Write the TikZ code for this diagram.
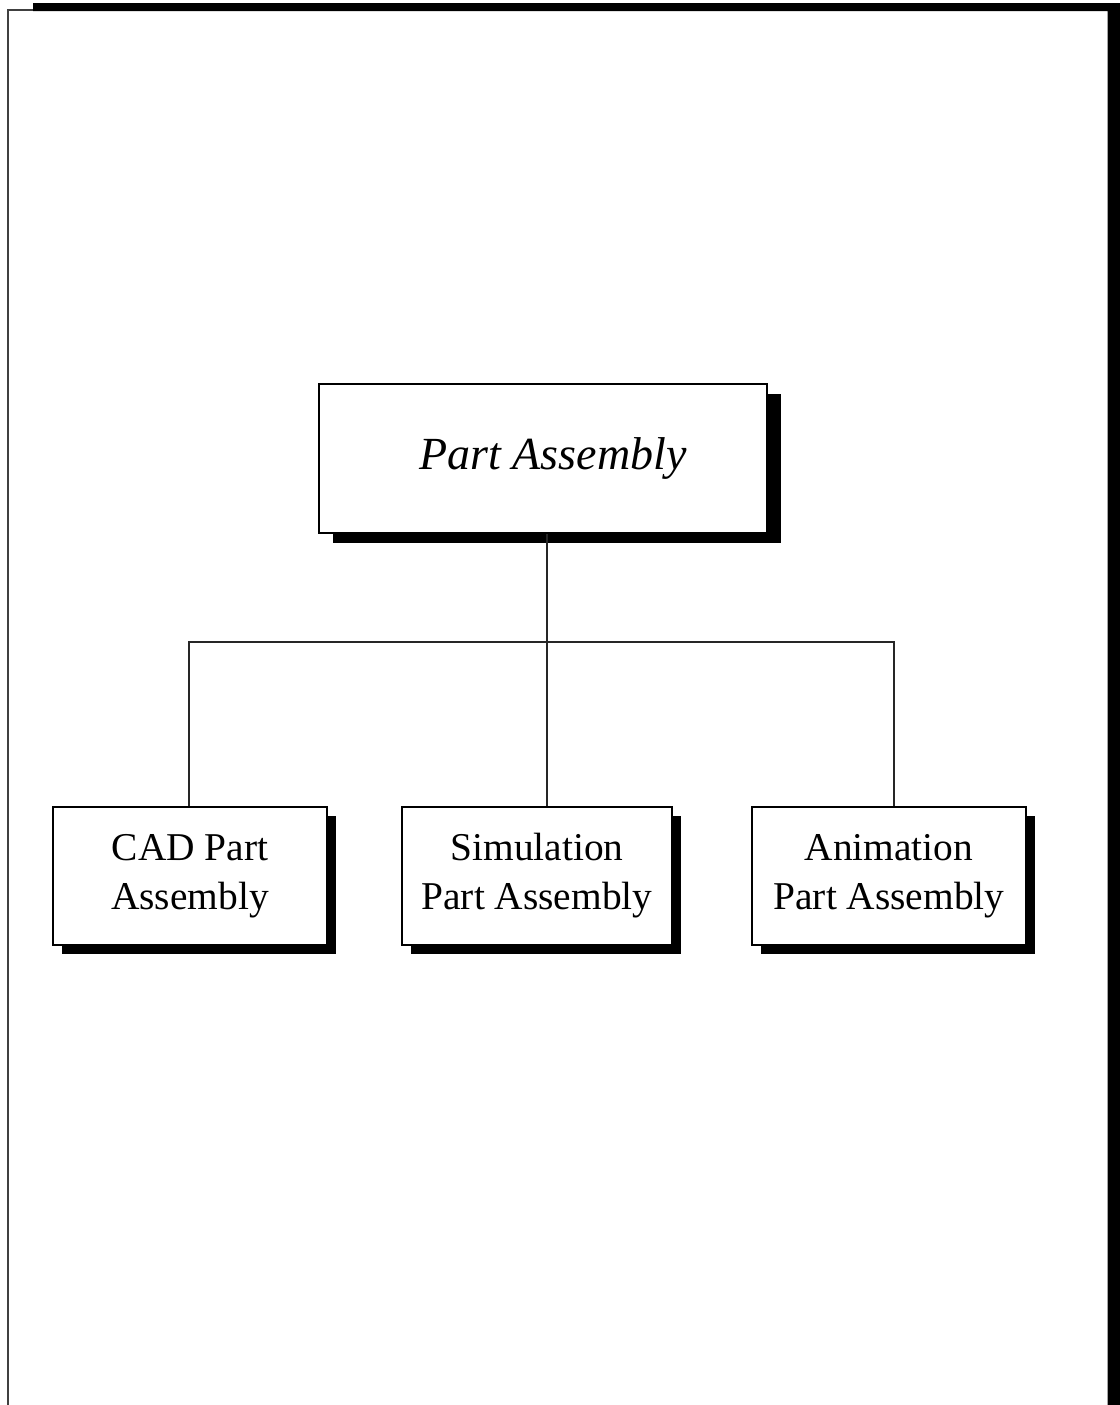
\documentclass[tikz,border=0pt]{standalone}
\usepackage{fontspec}
\setmainfont{Liberation Serif}
\usetikzlibrary{shadows}
\begin{document}
\begin{tikzpicture}[x=0.5pt,y=-0.5pt,
  box/.style={draw=black, line width=0.8pt, fill=white, inner sep=0pt,
    align=center},
  topbox/.style={box, minimum width=224pt, minimum height=74.5pt,
    font=\fontsize{23}{28}\selectfont\itshape,
    drop shadow={shadow xshift=7pt, shadow yshift=-5pt, fill=black, opacity=1}},
  subbox/.style={box, minimum width=137pt, minimum height=69pt,
    font=\fontsize{19.7}{24.5}\selectfont,
    drop shadow={shadow xshift=4.5pt, shadow yshift=-4.5pt, fill=black, opacity=1}},
  link/.style={line width=0.75pt, draw=black!85}
]
% page frame: thin left rule, heavy top and right rules
\path[use as bounding box, fill=white] (0,0) rectangle (1120,1405);
\fill[black] (33,3) -- (1120,3) -- (1120,1405) -- (1107.5,1405)
  -- (1107.5,11) -- (33,11) -- cycle;
\draw[line width=0.8pt, black!75] (8,1405) -- (8,10) -- (33,10);

% boxes
\node[topbox] (top) at (543,458.5) {\hspace*{10pt}Part Assembly};
\node[subbox, minimum width=137pt] (cad) at (190,876) {CAD Part\\Assembly};
\node[subbox, minimum width=135pt] (sim) at (537,876) {Simulation\\Part Assembly};
\node[subbox, minimum width=137pt] (anim) at (889,876) {Animation\\Part Assembly};

% connector tree
\coordinate (trunk) at (547,642);
\coordinate (lft) at (189,642);
\coordinate (rgt) at (894,642);
\draw[link] (top.south -| trunk) -- (sim.north -| trunk);
\draw[link] (cad.north -| lft) -- (lft) -- (rgt) -- (anim.north -| rgt);
\end{tikzpicture}
\end{document}
